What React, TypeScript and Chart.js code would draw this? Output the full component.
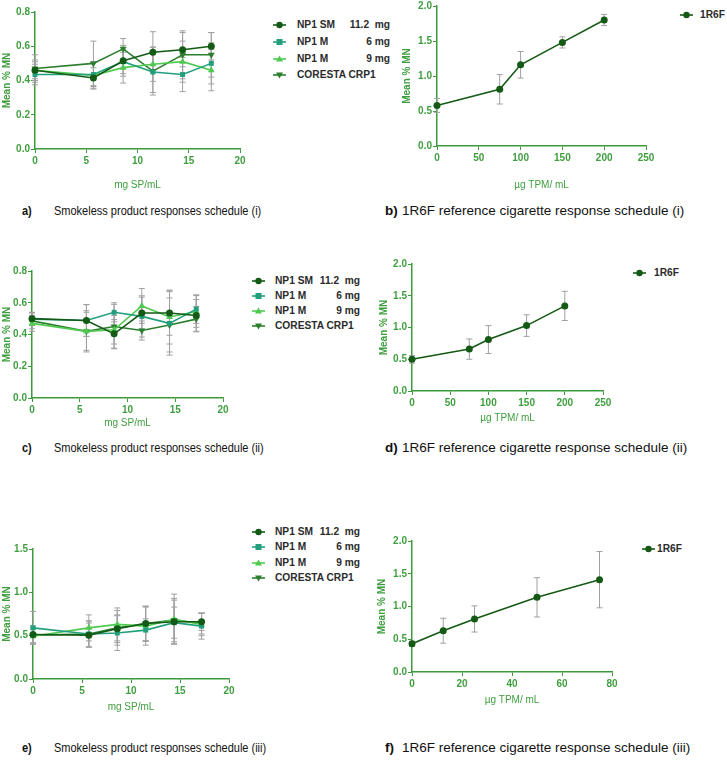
import React, { useEffect, useRef } from 'react';
import { Chart, registerables } from 'chart.js';

Chart.register(...registerables);

// ---------- DATA ----------
const spDoses = [0, 5.7, 8.6, 11.5, 14.4, 17.2];
const tpmDoses12 = [0, 75, 100, 150, 200];
const tpmDoses3 = [0, 12.5, 25, 50, 75];

const seriesNames = ['NP1 SM', 'NP1 M', 'NP1 M', 'CORESTA CRP1'];
const seriesDoses = ['11.2  mg', '6 mg', '9 mg', ''];
const refName = '1R6F';

// schedule (i)
const aSM = [0.46, 0.415, 0.515, 0.565, 0.58, 0.60];
const aM6 = [0.435, 0.435, 0.51, 0.45, 0.435, 0.50];
const aM9 = [0.46, 0.43, 0.475, 0.495, 0.51, 0.46];
const aCRP = [0.47, 0.50, 0.585, 0.455, 0.55, 0.55];
const aSMErr = [0.05, 0.06, 0.09, 0.12, 0.10, 0.08];
const aM6Err = [0.06, 0.07, 0.07, 0.12, 0.10, 0.12];
const aM9Err = [0.06, 0.08, 0.09, 0.10, 0.12, 0.12];
const aCRPErr = [0.08, 0.13, 0.06, 0.14, 0.14, 0.13];

const bRef = [0.58, 0.81, 1.16, 1.48, 1.80];
const bRefErr = [0.10, 0.21, 0.19, 0.08, 0.08];

// schedule (ii)
const cSM = [0.50, 0.488, 0.404, 0.535, 0.535, 0.52];
const cM6 = [0.497, 0.488, 0.54, 0.514, 0.47, 0.56];
const cM9 = [0.47, 0.42, 0.43, 0.58, 0.51, 0.545];
const cCRP = [0.486, 0.42, 0.45, 0.425, 0.46, 0.497];
const cSMErr = [0.04, 0.10, 0.09, 0.10, 0.14, 0.10];
const cM6Err = [0.04, 0.10, 0.06, 0.13, 0.20, 0.09];
const cM9Err = [0.05, 0.12, 0.09, 0.11, 0.17, 0.10];
const cCRPErr = [0.05, 0.13, 0.14, 0.06, 0.17, 0.08];

const dRef = [0.50, 0.66, 0.81, 1.03, 1.34];
const dRefErr = [0.06, 0.16, 0.22, 0.17, 0.23];

// schedule (iii)
const eSM = [0.514, 0.506, 0.58, 0.64, 0.66, 0.66];
const eM6 = [0.59, 0.52, 0.53, 0.564, 0.65, 0.61];
const eM9 = [0.494, 0.59, 0.63, 0.61, 0.69, 0.63];
const eCRP = [0.506, 0.52, 0.59, 0.64, 0.68, 0.64];
const eSMErr = [0.10, 0.14, 0.16, 0.20, 0.25, 0.10];
const eM6Err = [0.19, 0.15, 0.20, 0.13, 0.18, 0.15];
const eM9Err = [0.08, 0.15, 0.19, 0.22, 0.29, 0.13];
const eCRPErr = [0.09, 0.15, 0.20, 0.20, 0.25, 0.12];

const fRef = [0.43, 0.63, 0.81, 1.14, 1.41];
const fRefErr = [0.04, 0.19, 0.20, 0.30, 0.43];

const captionLetters = ['a)', 'b)', 'c)', 'd)', 'e)', 'f)'];
const captionTexts = [
  'Smokeless product responses schedule (i)',
  '1R6F reference cigarette response schedule (i)',
  'Smokeless product responses schedule (ii)',
  '1R6F reference cigarette response schedule (ii)',
  'Smokeless product responses schedule (iii)',
  '1R6F reference cigarette response schedule (iii)',
];

// ---------- STYLE ----------
const SM_COLOR = '#135a16';
const M6_COLOR = '#22a07e';
const M9_COLOR = '#4fc94f';
const CRP_COLOR = '#2b7f2f';
const REF_COLOR = '#145a14';
const AXIS_GREEN = '#3c9a3c';
const TEXT_GREEN = '#3f9e3f';
const ERR_GRAY = '#a0a0a0';
const FONT = "'Liberation Sans', Arial, sans-serif";

const seriesStyles = [
  { color: SM_COLOR, shape: 'circle' },
  { color: M6_COLOR, shape: 'rect' },
  { color: M9_COLOR, shape: 'triangle' },
  { color: CRP_COLOR, shape: 'triangleDown' },
];

const errorBarPlugin = {
  id: 'errorBars',
  beforeDatasetsDraw(chart: any) {
    const ctx = chart.ctx;
    const yScale = chart.scales.y;
    chart.data.datasets.forEach((ds: any, di: number) => {
      const errs = ds.errors;
      if (!errs) return;
      const meta = chart.getDatasetMeta(di);
      meta.data.forEach((pt: any, i: number) => {
        const v = ds.data[i].y;
        const e = errs[i];
        const x = pt.x;
        const yT = yScale.getPixelForValue(v + e);
        const yB = yScale.getPixelForValue(v - e);
        ctx.save();
        ctx.strokeStyle = ERR_GRAY;
        ctx.lineWidth = 1;
        ctx.beginPath();
        ctx.moveTo(x, yT);
        ctx.lineTo(x, yB);
        ctx.moveTo(x - 3, yT);
        ctx.lineTo(x + 3, yT);
        ctx.moveTo(x - 3, yB);
        ctx.lineTo(x + 3, yB);
        ctx.stroke();
        ctx.restore();
      });
    });
  },
};

type SeriesDef = { values: number[]; errors: number[]; color: string; shape: string };

type PanelDef = {
  left: number; top: number; width: number; height: number;
  padTop: number; padRight: number; yWidth: number; xHeight: number;
  xs: number[]; series: SeriesDef[];
  xMax: number; xStep: number; yMax: number; yStep: number;
  xTitle: string;
};

function shapeToPointStyle(shape: string) {
  if (shape === 'circle') return { pointStyle: 'circle', pointRotation: 0, pointRadius: 3.5 };
  if (shape === 'rect') return { pointStyle: 'rect', pointRotation: 0, pointRadius: 3.5 };
  if (shape === 'triangle') return { pointStyle: 'triangle', pointRotation: 0, pointRadius: 4 };
  return { pointStyle: 'triangle', pointRotation: 180, pointRadius: 4 };
}

function Panel({ p }: { p: PanelDef }) {
  const ref = useRef<HTMLCanvasElement>(null);
  useEffect(() => {
    if (!ref.current) return;
    const datasets = p.series.map((s) => ({
      data: p.xs.map((x, i) => ({ x, y: s.values[i] })),
      errors: s.errors,
      borderColor: s.color,
      backgroundColor: s.color,
      borderWidth: 1.6,
      ...shapeToPointStyle(s.shape),
      pointBorderWidth: 0,
      tension: 0,
      clip: false as any,
    }));
    const chart = new Chart(ref.current, {
      type: 'line',
      data: { datasets } as any,
      plugins: [errorBarPlugin],
      options: {
        animation: false,
        responsive: false,
        devicePixelRatio: 1,
        layout: { padding: { left: 0, top: p.padTop, right: p.padRight, bottom: 0 } },
        plugins: { legend: { display: false }, tooltip: { enabled: false } },
        scales: {
          x: {
            type: 'linear',
            min: 0,
            max: p.xMax,
            afterFit: (s: any) => { s.height = p.xHeight; },
            border: { color: AXIS_GREEN, width: 1.5 },
            grid: { display: true, drawOnChartArea: false, drawTicks: true, tickLength: 4, color: AXIS_GREEN, tickColor: AXIS_GREEN },
            ticks: {
              stepSize: p.xStep,
              color: TEXT_GREEN,
              font: { family: FONT, size: 10, weight: 'bold' },
              padding: 2,
              maxRotation: 0,
              callback: (v: any) => String(v),
            },
            title: {
              display: true,
              text: p.xTitle,
              color: TEXT_GREEN,
              font: { family: FONT, size: 10, weight: 'normal' },
              padding: { top: 0, bottom: 0 },
            },
          },
          y: {
            type: 'linear',
            min: 0,
            max: p.yMax,
            afterFit: (s: any) => { s.width = p.yWidth; },
            border: { color: AXIS_GREEN, width: 1.5 },
            grid: { display: true, drawOnChartArea: false, drawTicks: true, tickLength: 4, color: AXIS_GREEN, tickColor: AXIS_GREEN },
            ticks: {
              stepSize: p.yStep,
              color: TEXT_GREEN,
              font: { family: FONT, size: 10, weight: 'bold' },
              padding: 1,
              callback: (v: any) => Number(v).toFixed(1),
            },
            title: {
              display: true,
              text: 'Mean % MN',
              color: TEXT_GREEN,
              font: { family: FONT, size: 10, weight: 'bold' },
              padding: { top: 1, bottom: 0 },
            },
          },
        },
      } as any,
    });
    return () => chart.destroy();
  }, []);
  return (
    <div style={{ position: 'absolute', left: p.left, top: p.top, width: p.width, height: p.height }}>
      <canvas ref={ref} width={p.width} height={p.height} />
    </div>
  );
}

function MarkerSvg({ color, shape, left, top, w }: { color: string; shape: string; left: number; top: number; w: number }) {
  const c = w / 2;
  let m: any = null;
  if (shape === 'circle') m = <circle cx={c} cy={5} r={3.2} fill={color} />;
  else if (shape === 'rect') m = <rect x={c - 3} y={2} width={6} height={6} fill={color} />;
  else if (shape === 'triangle') m = <polygon points={`${c},1.5 ${c + 3.5},7.5 ${c - 3.5},7.5`} fill={color} />;
  else m = <polygon points={`${c},8.5 ${c + 3.5},2.5 ${c - 3.5},2.5`} fill={color} />;
  return (
    <svg width={w} height={10} style={{ position: 'absolute', left, top: top - 5 }}>
      <line x1={0} y1={5} x2={w} y2={5} stroke={color} strokeWidth={1.6} />
      {m}
    </svg>
  );
}

const legendText: any = { position: 'absolute', height: 14, lineHeight: '14px', fontFamily: FONT, fontWeight: 'bold', fontSize: 10.2, color: '#2b2b2b', whiteSpace: 'pre' };

function SeriesLegend({ markerX, textX, rightX, rows }: { markerX: number; textX: number; rightX: number; rows: number[] }) {
  return (
    <>
      {seriesNames.map((name, i) => (
        <React.Fragment key={i}>
          <MarkerSvg color={seriesStyles[i].color} shape={seriesStyles[i].shape} left={markerX} top={rows[i]} w={13} />
          <div style={{ ...legendText, left: textX, top: rows[i] - 7 }}>{name}</div>
          {seriesDoses[i] ? (
            <div style={{ ...legendText, right: 727 - rightX, top: rows[i] - 7 }}>{seriesDoses[i]}</div>
          ) : null}
        </React.Fragment>
      ))}
    </>
  );
}

function RefLegend({ markerX, textX, y }: { markerX: number; textX: number; y: number }) {
  return (
    <>
      <MarkerSvg color={REF_COLOR} shape="circle" left={markerX} top={y} w={13} />
      <div style={{ ...legendText, left: textX, top: y - 7 }}>{refName}</div>
    </>
  );
}

function Caption({ idx, letterX, textX, y, size, sx }: { idx: number; letterX: number; textX: number; y: number; size: number; sx: number }) {
  const base: any = { position: 'absolute', top: y - 9, height: 18, lineHeight: '18px', fontFamily: FONT, fontSize: size, color: '#111', whiteSpace: 'nowrap', transform: `scaleX(${sx})`, transformOrigin: 'left center' };
  return (
    <>
      <div style={{ ...base, left: letterX, fontWeight: 'bold' }}>{captionLetters[idx]}</div>
      <div style={{ ...base, left: textX }}>{captionTexts[idx]}</div>
    </>
  );
}

function spSeries(sm: number[], m6: number[], m9: number[], crp: number[], e: number[][]): SeriesDef[] {
  return [sm, m6, m9, crp].map((values, i) => ({ values, errors: e[i], color: seriesStyles[i].color, shape: seriesStyles[i].shape }));
}

const panels: PanelDef[] = [
  {
    left: 0, top: 4, width: 250, height: 187, padTop: 8, padRight: 10, yWidth: 35, xHeight: 42,
    xs: spDoses, series: spSeries(aSM, aM6, aM9, aCRP, [aSMErr, aM6Err, aM9Err, aCRPErr]),
    xMax: 20, xStep: 5, yMax: 0.8, yStep: 0.2, xTitle: 'mg SP/mL',
  },
  {
    left: 400, top: -2, width: 258, height: 193, padTop: 8, padRight: 12, yWidth: 37, xHeight: 45,
    xs: tpmDoses12, series: [{ values: bRef, errors: bRefErr, color: REF_COLOR, shape: 'circle' }],
    xMax: 250, xStep: 50, yMax: 2, yStep: 0.5, xTitle: 'µg TPM/ mL',
  },
  {
    left: 0, top: 263, width: 233, height: 166, padTop: 8, padRight: 10, yWidth: 32, xHeight: 31,
    xs: spDoses, series: spSeries(cSM, cM6, cM9, cCRP, [cSMErr, cM6Err, cM9Err, cCRPErr]),
    xMax: 20, xStep: 5, yMax: 0.8, yStep: 0.2, xTitle: 'mg SP/mL',
  },
  {
    left: 377, top: 256, width: 238, height: 168, padTop: 8, padRight: 12, yWidth: 35, xHeight: 33,
    xs: tpmDoses12, series: [{ values: dRef, errors: dRefErr, color: REF_COLOR, shape: 'circle' }],
    xMax: 250, xStep: 50, yMax: 2, yStep: 0.5, xTitle: 'µg TPM/ mL',
  },
  {
    left: 0, top: 541, width: 239, height: 172, padTop: 8, padRight: 10, yWidth: 33, xHeight: 34,
    xs: spDoses, series: spSeries(eSM, eM6, eM9, eCRP, [eSMErr, eM6Err, eM9Err, eCRPErr]),
    xMax: 20, xStep: 5, yMax: 1.5, yStep: 0.5, xTitle: 'mg SP/mL',
  },
  {
    left: 375, top: 533, width: 249, height: 173, padTop: 8, padRight: 12, yWidth: 37, xHeight: 34,
    xs: tpmDoses3, series: [{ values: fRef, errors: fRefErr, color: REF_COLOR, shape: 'circle' }],
    xMax: 80, xStep: 20, yMax: 2, yStep: 0.5, xTitle: 'µg TPM/ mL',
  },
];

export default function App() {
  return (
    <div style={{ position: 'absolute', left: 0, top: 0, width: 727, height: 765, background: '#fff', overflow: 'hidden' }}>
      {panels.map((p, i) => <Panel key={i} p={p} />)}
      <SeriesLegend markerX={273} textX={297} rightX={390} rows={[25, 42, 59, 75]} />
      <SeriesLegend markerX={252} textX={275} rightX={360} rows={[281, 296, 311, 326]} />
      <SeriesLegend markerX={252} textX={275} rightX={360} rows={[532, 547, 563, 578]} />
      <RefLegend markerX={680} textX={700} y={15} />
      <RefLegend markerX={633} textX={654} y={273} />
      <RefLegend markerX={642} textX={657} y={549} />
      <Caption idx={0} letterX={22} textX={54} y={211} size={12.5} sx={0.88} />
      <Caption idx={1} letterX={385} textX={402} y={211} size={13.5} sx={1.0} />
      <Caption idx={2} letterX={22} textX={54} y={448} size={12.5} sx={0.88} />
      <Caption idx={3} letterX={385} textX={402} y={448} size={13.5} sx={1.0} />
      <Caption idx={4} letterX={22} textX={54} y={748} size={12.5} sx={0.88} />
      <Caption idx={5} letterX={385} textX={402} y={748} size={13.5} sx={1.0} />
    </div>
  );
}
